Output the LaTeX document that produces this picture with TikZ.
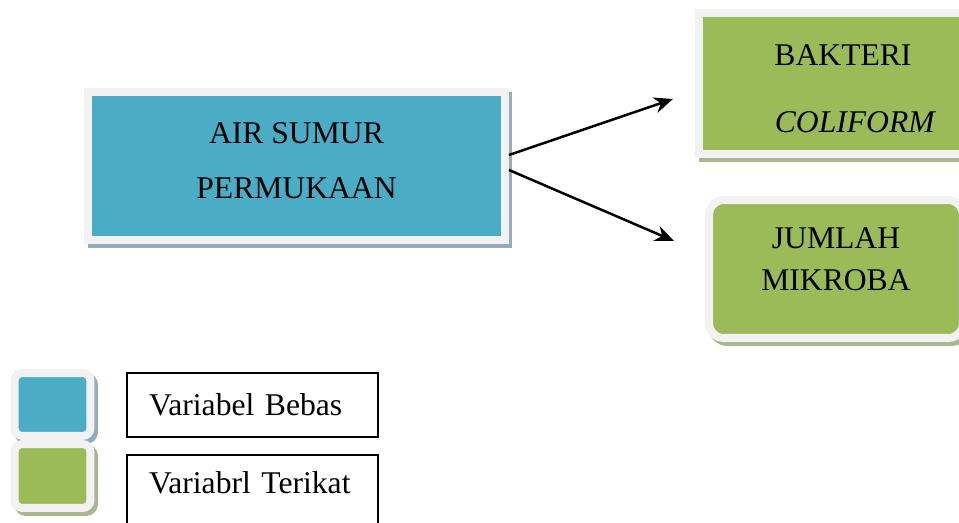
\documentclass[tikz,border=0pt]{standalone}
\usepackage{fontspec}
\setmainfont{Liberation Serif}
\usetikzlibrary{arrows.meta,shadows}
\definecolor{airblue}{HTML}{4BACC6}
\definecolor{mikrogreen}{HTML}{9BBB59}
\definecolor{framegray}{HTML}{F2F2F2}
\definecolor{blueshadow}{HTML}{93ADBA}
\definecolor{greenshadow}{HTML}{A9B78D}
\begin{document}
\begin{tikzpicture}[x=0.02cm, y=-0.02cm,
    font=\fontsize{18}{22}\selectfont,
    boxframe/.style={draw=framegray, line width=0.16cm, inner sep=0pt, align=center},
    blueshade/.style={drop shadow={shadow xshift=0.07cm, shadow yshift=-0.08cm,
        draw=blueshadow, fill=blueshadow, opacity=1}},
    greenshade/.style={drop shadow={shadow xshift=0.07cm, shadow yshift=-0.08cm,
        draw=greenshadow, fill=greenshadow, opacity=1}},
    legendbox/.style={draw, line width=0.03cm, minimum width=5.02cm, inner xsep=0.44cm,
        text width=4.14cm, align=left},
    arrow/.style={-{Stealth[length=0.38cm, width=0.32cm]}, line width=0.05cm}]
  \useasboundingbox (0,0) rectangle (959,523);

  % variabel bebas
  \node (sumur) [boxframe, blueshade, fill=airblue, minimum width=8.34cm,
      minimum height=2.96cm, text depth=0.22cm] at (296.5,166)
      {AIR SUMUR\\[0.32cm] PERMUKAAN};

  % variabel terikat
  \node (bakteri) [boxframe, greenshade, fill=mikrogreen, minimum width=5.76cm,
      minimum height=2.82cm, text height=1.98cm, text depth=0cm] at (843,83.5)
      {BAKTERI\\[0.58cm] \hspace*{0.5cm}\textit{COLIFORM}};
  \node (jumlah) [boxframe, greenshade, fill=mikrogreen, rounded corners=0.3cm,
      minimum width=5.08cm, minimum height=2.76cm, text depth=0.4cm] at (836,269)
      {JUMLAH\\[0.06cm] MIKROBA};

  \coordinate (tipbak) at (673,99);
  \coordinate (tipjum) at (674,241);
  \draw [arrow] ([yshift=0.22cm]sumur.east) -- (tipbak);
  \draw [arrow] ([yshift=-0.08cm]sumur.east) -- (tipjum);

  % keterangan
  \node (kunciblue) [boxframe, blueshade, fill=airblue, rounded corners=0.16cm,
      minimum width=1.52cm, minimum height=1.26cm] at (52.5,404.5) {};
  \node (kuncigreen) [boxframe, greenshade, fill=mikrogreen, rounded corners=0.16cm,
      minimum width=1.52cm, minimum height=1.28cm] at (52.5,476) {};
  \node (bebas) [legendbox, minimum height=1.28cm] at (252.5,405) {Variabel Bebas};
  \node (terikat) [legendbox, minimum height=1.7cm, text height=0.43cm,
      text depth=0.61cm] at (252.5,497.5) {Variabrl Terikat};
\end{tikzpicture}
\end{document}
